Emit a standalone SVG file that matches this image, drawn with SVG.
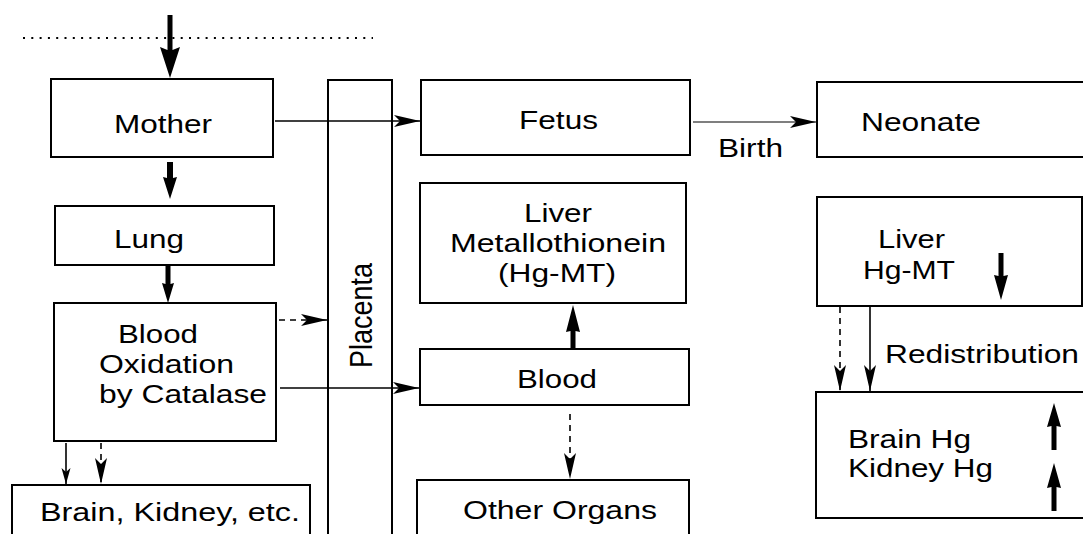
<svg xmlns="http://www.w3.org/2000/svg" width="1083" height="534" viewBox="0 0 1083 534">
<style>
.box{fill:#fff;stroke:#000;stroke-width:2}
.t{font-family:"Liberation Sans",Arial,sans-serif;font-size:26px;fill:#000}
.ln{fill:none;stroke:#000;stroke-width:1.6}
.dash{stroke-dasharray:6 5}
.thick{fill:#000;stroke:none}
</style>
<defs>
<marker id="ma" markerUnits="userSpaceOnUse" markerWidth="20" markerHeight="12" refX="16" refY="5" orient="auto" viewBox="0 0 20 12">
<path d="M0,0.5 L16,5 L0,9.5 L4,5 Z" fill="#000"/>
</marker>
<marker id="mb" markerUnits="userSpaceOnUse" markerWidth="28" markerHeight="14" refX="26" refY="6.5" orient="auto" viewBox="0 0 28 14">
<path d="M0,0.5 L26,6.5 L0,12.5 L6,6.5 Z" fill="#000"/>
</marker>
</defs>
<rect width="1083" height="534" fill="#fff"/>

<g id="nodes">
<g id="mother"><rect class="box" x="51" y="79" width="222" height="78"/><text class="t" x="114" y="133" textLength="98" lengthAdjust="spacingAndGlyphs">Mother</text></g>
<g id="lung"><rect class="box" x="55" y="206" width="219" height="59"/><text class="t" x="114" y="248" textLength="70" lengthAdjust="spacingAndGlyphs">Lung</text></g>
<g id="blood-oxidation"><rect class="box" x="54" y="303" width="222" height="138"/>
<text class="t" x="118" y="343" textLength="80" lengthAdjust="spacingAndGlyphs">Blood</text>
<text class="t" x="99" y="373" textLength="135" lengthAdjust="spacingAndGlyphs">Oxidation</text>
<text class="t" x="99" y="403" textLength="168" lengthAdjust="spacingAndGlyphs">by Catalase</text></g>
<g id="brain-kidney"><rect class="box" x="12" y="485" width="298" height="60"/><text class="t" x="40" y="521" textLength="260" lengthAdjust="spacingAndGlyphs">Brain, Kidney, etc.</text></g>
<g id="placenta"><rect class="box" x="328" y="80" width="64" height="470"/><text class="t" transform="translate(372,368) scale(1.2,1) rotate(-90)" x="0" y="0" textLength="105" lengthAdjust="spacingAndGlyphs">Placenta</text></g>
<g id="fetus"><rect class="box" x="421" y="80" width="269" height="75"/><text class="t" x="519" y="129" textLength="79" lengthAdjust="spacingAndGlyphs">Fetus</text></g>
<g id="liver-mt"><rect class="box" x="420" y="183" width="266" height="120"/>
<text class="t" x="524" y="222" textLength="68" lengthAdjust="spacingAndGlyphs">Liver</text>
<text class="t" x="450" y="252" textLength="216" lengthAdjust="spacingAndGlyphs">Metallothionein</text>
<text class="t" x="498" y="282" textLength="118" lengthAdjust="spacingAndGlyphs">(Hg-MT)</text></g>
<g id="blood"><rect class="box" x="420" y="349" width="269" height="56"/><text class="t" x="517" y="388" textLength="80" lengthAdjust="spacingAndGlyphs">Blood</text></g>
<g id="other-organs"><rect class="box" x="417" y="480" width="272" height="70"/><text class="t" x="463" y="519" textLength="194" lengthAdjust="spacingAndGlyphs">Other Organs</text></g>
<g id="neonate"><rect class="box" x="817" y="82" width="280" height="75"/><text class="t" x="861" y="131" textLength="120" lengthAdjust="spacingAndGlyphs">Neonate</text></g>
<g id="liver-hgmt"><rect class="box" x="817" y="197" width="265" height="109"/>
<text class="t" x="878" y="248" textLength="67" lengthAdjust="spacingAndGlyphs">Liver</text>
<text class="t" x="863" y="279" textLength="92" lengthAdjust="spacingAndGlyphs">Hg-MT</text>
<path class="thick" d="M998.5,253 H1003.5 V276 L1008,275 L1001,300 L994,275 L998.5,276 Z"/></g>
<g id="brain-kidney-hg"><rect class="box" x="816" y="392" width="280" height="126"/>
<text class="t" x="848" y="448" textLength="123" lengthAdjust="spacingAndGlyphs">Brain Hg</text>
<text class="t" x="848" y="477" textLength="145" lengthAdjust="spacingAndGlyphs">Kidney Hg</text>
<path class="thick" d="M1051.5,450 H1056.5 V426 L1061,427 L1054,403 L1047,427 L1051.5,426 Z"/>
<path class="thick" d="M1051.5,511 H1056.5 V487 L1061,488 L1054,463 L1047,488 L1051.5,487 Z"/></g>
</g>

<g id="connectors">
<line x1="23" y1="38" x2="373" y2="38" stroke="#000" stroke-width="2" stroke-dasharray="2 6.3"/>
<path class="thick" d="M167.5,15 H172.5 V50 L180,47 L170,78 L160,47 L167.5,50 Z"/>
<path class="thick" d="M167,162 H173 V178 L177,177 L170,199 L163,177 L167,178 Z"/>
<path class="thick" d="M165.5,266 H170.5 V284 L174,283 L168,303 L162,283 L165.5,284 Z"/>
<path class="thick" d="M570.5,349 H575.5 V331 L580,332 L573,305 L566,332 L570.5,331 Z"/>
<line class="ln" x1="275" y1="121" x2="420" y2="121" marker-end="url(#mb)"/>
<line class="ln dash" x1="279" y1="320" x2="327" y2="320" marker-end="url(#mb)"/>
<line class="ln" x1="280" y1="388" x2="419" y2="388" marker-end="url(#mb)"/>
<line class="ln" x1="66" y1="443" x2="66" y2="484" marker-end="url(#ma)"/>
<line class="ln dash" x1="101" y1="443" x2="101" y2="484" marker-end="url(#mb)"/>
<line class="ln dash" x1="570" y1="414" x2="570" y2="479" marker-end="url(#mb)"/>
<line x1="693" y1="122" x2="816" y2="122" stroke="#555" stroke-width="1.3" marker-end="url(#mb)"/>
<text class="t" x="718" y="157" textLength="65" lengthAdjust="spacingAndGlyphs">Birth</text>
<line class="ln dash" x1="840" y1="307" x2="840" y2="391" marker-end="url(#mb)"/>
<line class="ln" x1="870" y1="307" x2="870" y2="391" marker-end="url(#mb)"/>
<text class="t" x="885" y="363" textLength="194" lengthAdjust="spacingAndGlyphs">Redistribution</text>
</g>
</svg>
